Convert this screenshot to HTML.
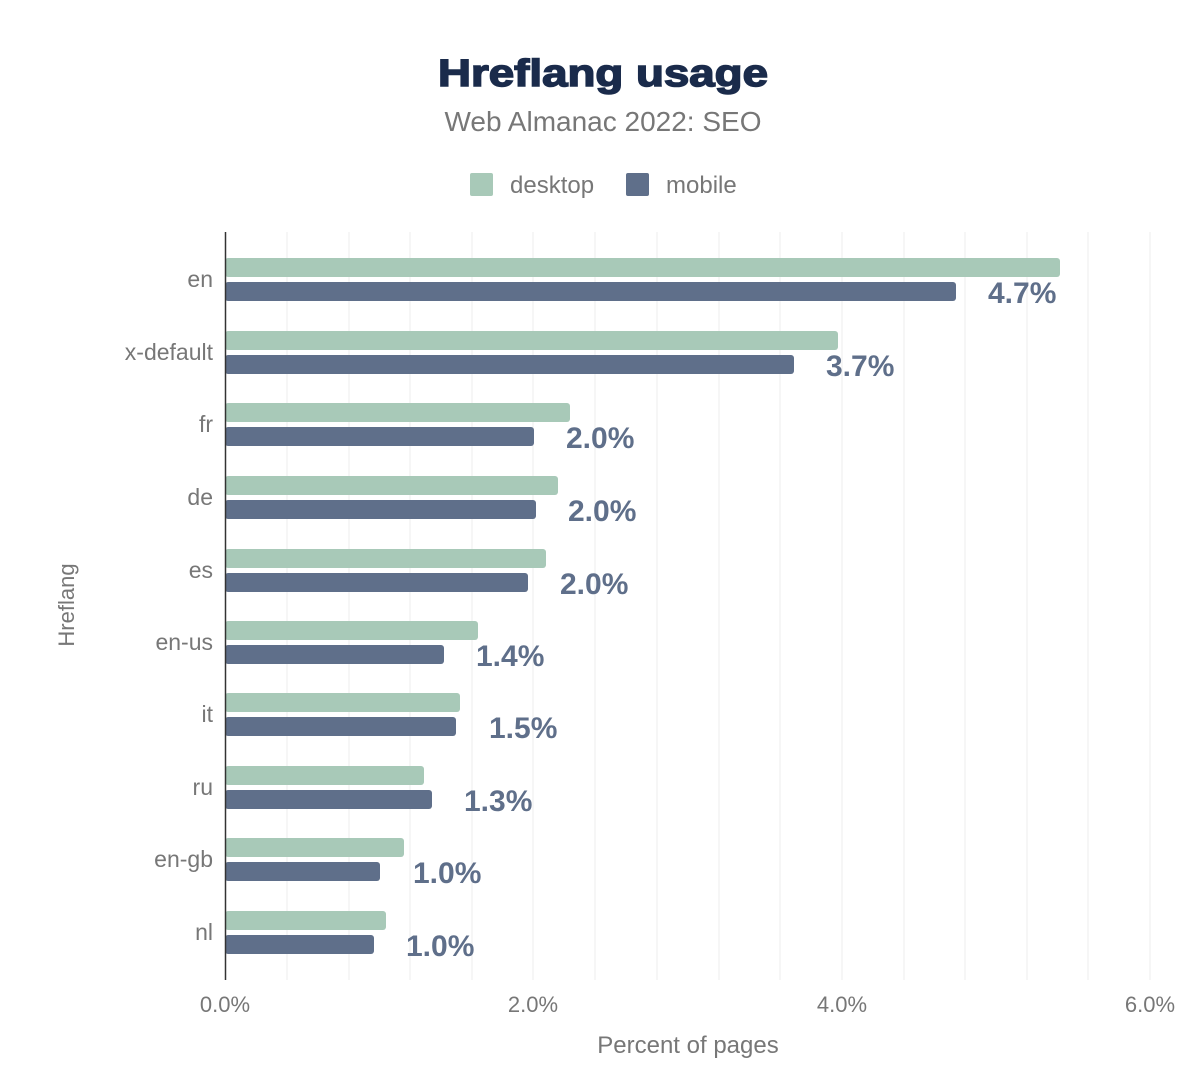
<!DOCTYPE html>
<html><head><meta charset="utf-8"><style>html,body{margin:0;padding:0;background:#fff}svg{display:block}text{font-family:"Liberation Sans",Arial,sans-serif}</style></head><body>
<svg width="1200" height="1092" viewBox="0 0 1200 1092" xmlns="http://www.w3.org/2000/svg">
<text x="603" y="86" text-anchor="middle" font-size="38" font-weight="bold" fill="#1a2b4b" stroke="#1a2b4b" stroke-width="1.5" textLength="330" lengthAdjust="spacingAndGlyphs">Hreflang usage</text>
<text x="603" y="131" text-anchor="middle" font-size="28" fill="#777">Web Almanac 2022: SEO</text>
<rect x="470" y="173" width="23" height="23" rx="2" fill="#a8c9b8"/>
<text x="510" y="193" font-size="24" fill="#777">desktop</text>
<rect x="626" y="173" width="23" height="23" rx="2" fill="#5f6f8a"/>
<text x="666" y="193" font-size="24" fill="#777">mobile</text>
<g stroke="#ececec" stroke-width="1">
<line x1="287" y1="232" x2="287" y2="980"/><line x1="349" y1="232" x2="349" y2="980"/><line x1="410" y1="232" x2="410" y2="980"/><line x1="472" y1="232" x2="472" y2="980"/><line x1="533" y1="232" x2="533" y2="980"/><line x1="595" y1="232" x2="595" y2="980"/><line x1="657" y1="232" x2="657" y2="980"/><line x1="719" y1="232" x2="719" y2="980"/><line x1="780" y1="232" x2="780" y2="980"/><line x1="842" y1="232" x2="842" y2="980"/><line x1="904" y1="232" x2="904" y2="980"/><line x1="965" y1="232" x2="965" y2="980"/><line x1="1027" y1="232" x2="1027" y2="980"/><line x1="1088" y1="232" x2="1088" y2="980"/><line x1="1150" y1="232" x2="1150" y2="980"/>
</g>
<g id="bars">
<rect x="225" y="258" width="835" height="19" rx="3" fill="#a8c9b8"/><rect x="225" y="282" width="731" height="19" rx="3" fill="#5f6f8a"/>
<rect x="225" y="331" width="613" height="19" rx="3" fill="#a8c9b8"/><rect x="225" y="355" width="569" height="19" rx="3" fill="#5f6f8a"/>
<rect x="225" y="403" width="345" height="19" rx="3" fill="#a8c9b8"/><rect x="225" y="427" width="309" height="19" rx="3" fill="#5f6f8a"/>
<rect x="225" y="476" width="333" height="19" rx="3" fill="#a8c9b8"/><rect x="225" y="500" width="311" height="19" rx="3" fill="#5f6f8a"/>
<rect x="225" y="549" width="321" height="19" rx="3" fill="#a8c9b8"/><rect x="225" y="573" width="303" height="19" rx="3" fill="#5f6f8a"/>
<rect x="225" y="621" width="253" height="19" rx="3" fill="#a8c9b8"/><rect x="225" y="645" width="219" height="19" rx="3" fill="#5f6f8a"/>
<rect x="225" y="693" width="235" height="19" rx="3" fill="#a8c9b8"/><rect x="225" y="717" width="231" height="19" rx="3" fill="#5f6f8a"/>
<rect x="225" y="766" width="199" height="19" rx="3" fill="#a8c9b8"/><rect x="225" y="790" width="207" height="19" rx="3" fill="#5f6f8a"/>
<rect x="225" y="838" width="179" height="19" rx="3" fill="#a8c9b8"/><rect x="225" y="862" width="155" height="19" rx="3" fill="#5f6f8a"/>
<rect x="225" y="911" width="161" height="19" rx="3" fill="#a8c9b8"/><rect x="225" y="935" width="149" height="19" rx="3" fill="#5f6f8a"/>
</g>
<line x1="225.5" y1="232" x2="225.5" y2="980" stroke="#333" stroke-width="1.5"/>
<g font-size="30" font-weight="bold" fill="#5f6f8a">
<text x="988" y="303">4.7%</text><text x="826" y="376">3.7%</text><text x="566" y="448">2.0%</text><text x="568" y="521">2.0%</text><text x="560" y="594">2.0%</text><text x="476" y="666">1.4%</text><text x="489" y="738">1.5%</text><text x="464" y="811">1.3%</text><text x="413" y="883">1.0%</text><text x="406" y="956">1.0%</text>
</g>
<g font-size="23" fill="#777" text-anchor="end">
<text x="213" y="287">en</text><text x="213" y="360">x-default</text><text x="213" y="432">fr</text><text x="213" y="505">de</text><text x="213" y="578">es</text><text x="213" y="650">en-us</text><text x="213" y="722">it</text><text x="213" y="795">ru</text><text x="213" y="867">en-gb</text><text x="213" y="940">nl</text>
</g>
<g font-size="22" fill="#777" text-anchor="middle">
<text x="225" y="1012">0.0%</text><text x="533" y="1012">2.0%</text><text x="842" y="1012">4.0%</text><text x="1150" y="1012">6.0%</text>
</g>
<text x="688" y="1053" text-anchor="middle" font-size="24" fill="#777">Percent of pages</text>
<text transform="translate(74,605) rotate(-90)" text-anchor="middle" font-size="22" fill="#777">Hreflang</text>
</svg>
</body></html>
